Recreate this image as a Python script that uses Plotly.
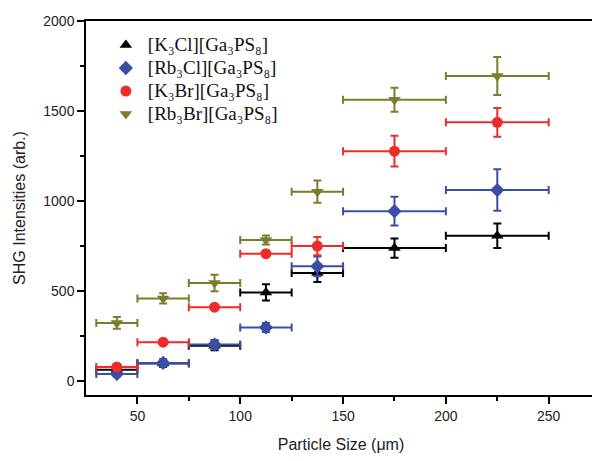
import plotly.graph_objects as go

x_vals = [40, 62.5, 87.5, 112.5, 137.5, 175, 225]
x_err = [10, 12.5, 12.5, 12.5, 12.5, 25, 25]

names = ["[K₃Cl][Ga₃PS₈]",
         "[Rb₃Cl][Ga₃PS₈]",
         "[K₃Br][Ga₃PS₈]",
         "[Rb₃Br][Ga₃PS₈]"]

k3cl = [65, 100, 198, 494, 602, 740, 808]
k3cl_err = [15, 20, 25, 45, 50, 53, 68]
rb3cl = [42, 103, 205, 300, 639, 945, 1062]
rb3cl_err = [15, 20, 25, 25, 55, 80, 115]
k3br = [80, 218, 412, 709, 751, 1278, 1438]
k3br_err = [10, 12, 12, 15, 50, 85, 80]
rb3br = [325, 461, 546, 785, 1053, 1563, 1695]
rb3br_err = [33, 28, 46, 25, 62, 67, 105]

series = [k3cl, rb3cl, k3br, rb3br]
errors = [k3cl_err, rb3cl_err, k3br_err, rb3br_err]
colors = ["#000000", "#3b4ea6", "#ee2b2b", "#7b7d2c"]
symbols = ["triangle-up", "diamond", "circle", "triangle-down"]

fig = go.Figure()
for nm, ys, es, c, s in zip(names, series, errors, colors, symbols):
    fig.add_trace(go.Scatter(
        x=x_vals, y=ys, mode="markers",
        name='<span style="font-size:19px">' + nm + '</span>',
        marker=dict(symbol=s, size=11, color=c),
        error_x=dict(type="data", array=x_err, color=c, thickness=2, width=4),
        error_y=dict(type="data", array=es, color=c, thickness=2, width=4),
    ))

axis_font = dict(family="Liberation Sans, Arial", size=14, color="#222")
title_font = dict(family="Liberation Sans, Arial", size=16, color="#222")
fig.update_layout(
    width=592, height=453,
    margin=dict(l=78, r=4, t=13, b=66),
    plot_bgcolor="white", paper_bgcolor="white",
    showlegend=True,
    legend=dict(x=0.035, y=0.98, xanchor="left", yanchor="top",
                font=dict(family="Liberation Serif, Times New Roman", size=15.4, color="#111"),
                bgcolor="rgba(0,0,0,0)", tracegroupgap=0, itemwidth=34),
    xaxis=dict(range=[25, 273], tickvals=[50, 100, 150, 200, 250], automargin=False,
               ticks="outside", ticklen=7, tickwidth=1.5, tickcolor="#000",
               minor=dict(tickvals=[75, 125, 175, 225], ticks="outside", ticklen=4, tickcolor="#000", tickwidth=1.5),
               showline=True, linecolor="#000", linewidth=1.5, mirror=True,
               showgrid=False, zeroline=False, tickfont=axis_font,
               title=dict(text="Particle Size (μm)", font=title_font, standoff=16)),
    yaxis=dict(range=[-75, 2000], tickvals=[0, 500, 1000, 1500, 2000], automargin=False,
               ticks="outside", ticklen=7, tickwidth=1.5, tickcolor="#000",
               minor=dict(tickvals=[250, 750, 1250, 1750], ticks="outside", ticklen=4, tickcolor="#000", tickwidth=1.5),
               showline=True, linecolor="#000", linewidth=1.5,
               showgrid=False, zeroline=False, tickfont=axis_font,
               title=dict(text="SHG Intensities (arb.)", font=title_font, standoff=14)),
)
fig.add_shape(type="line", xref="paper", yref="paper", x0=1, x1=1, y0=0, y1=1,
              line=dict(color="#cccccc", width=1))
fig.write_html("out.html")
